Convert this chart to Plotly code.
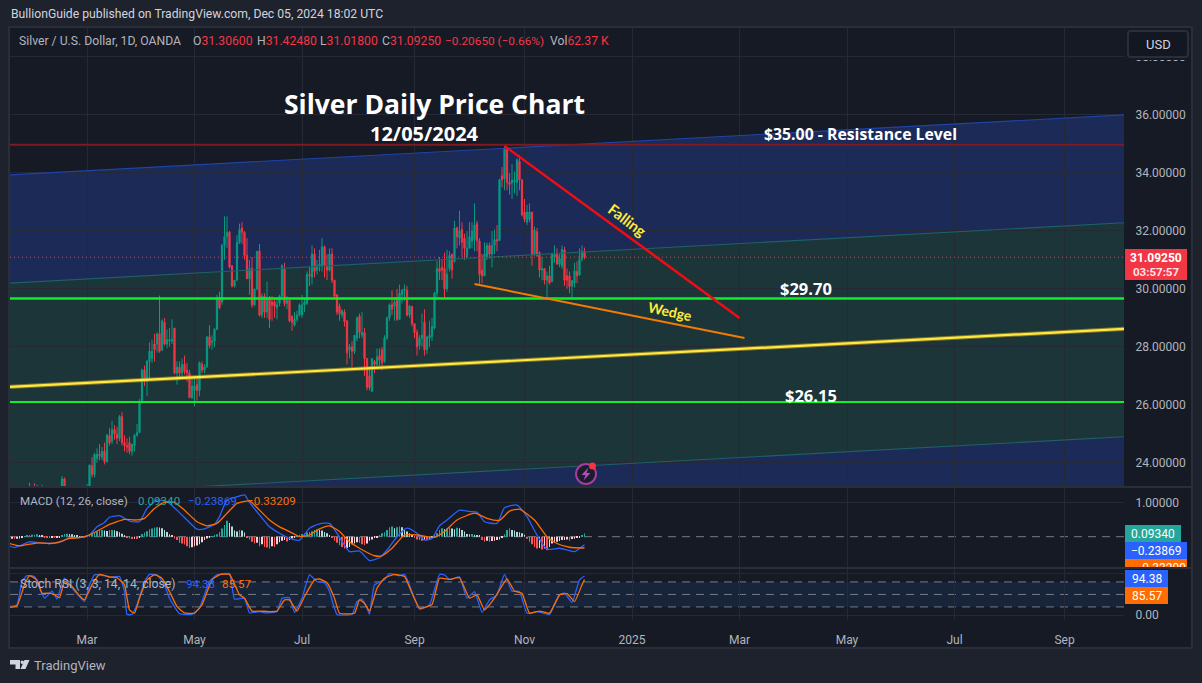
import numpy as np
import pandas as pd
import plotly.graph_objects as go

W, H = 1202, 683

# ---------- data ----------
first_bar = -30   # bars counted in weekdays from 2024-03-01
opens = [22.95,22.90,22.85,22.70,22.80,22.95,23.00,22.95,22.90,22.75,
 22.70,22.95,22.85,22.95,22.55,22.35,22.50,22.40,22.70,22.90,
 23.05,23.45,23.10,22.90,22.70,22.85,22.80,22.65,22.50,22.65,22.80,
 23.15,23.90,23.60,24.15,24.30,24.20,24.40,24.05,24.95,24.75,
 25.15,25.00,24.85,25.60,24.70,24.60,24.70,24.40,24.60,24.95,
 25.05,26.10,27.20,26.85,27.50,27.60,28.10,28.10,28.45,27.90,
 28.85,28.10,28.20,28.20,28.65,27.10,27.30,27.10,27.40,27.20,
 27.10,26.25,26.50,26.70,26.50,27.40,27.20,27.30,28.35,28.15,
 28.20,28.60,29.70,29.55,31.50,31.80,31.95,30.80,30.10,30.30,
 31.60,32.10,31.95,31.15,30.35,30.70,29.45,30.00,31.30,29.10,
 29.75,29.20,29.70,29.55,29.55,29.35,29.50,29.75,30.70,29.50,
 29.60,29.05,28.75,28.95,29.10,29.10,29.45,29.50,30.50,30.40,
 31.20,30.65,30.80,30.80,31.45,30.80,30.65,31.20,30.30,29.80,
 29.40,29.10,29.20,28.90,27.90,28.00,27.85,28.30,29.05,28.40,
 28.50,27.60,27.00,26.47,27.50,27.40,27.70,27.90,27.50,28.30,
 29.00,29.45,29.40,29.70,28.95,29.80,29.95,29.95,29.10,29.40,
 28.80,28.50,28.05,28.30,28.85,27.90,28.30,28.35,28.65,29.85,
 30.70,30.75,30.70,30.00,30.70,31.20,30.95,32.10,31.75,32.05,
 31.75,31.10,31.40,31.65,31.70,32.25,31.65,30.65,30.45,31.10,
 31.50,31.20,31.50,31.70,31.67,33.90,33.80,34.80,33.67,33.65,
 33.70,33.67,34.40,33.76,32.65,32.30,32.40,32.65,31.17,31.97,
 31.25,30.65,30.70,30.30,30.45,30.25,31.10,31.20,30.85,30.78,
 31.35,30.45,30.45,30.10,30.20,30.60,30.48,31.02,31.306]
highs = [23.10,23.05,23.00,22.95,23.10,23.15,23.15,23.32,23.15,23.30,
 23.25,23.10,23.25,23.05,22.70,22.60,22.65,22.80,23.00,23.10,
 23.55,23.50,23.15,23.00,22.95,23.05,22.95,22.80,22.75,22.90,23.28,
 23.95,24.20,24.35,24.50,24.65,24.55,24.70,25.00,25.20,25.45,
 25.30,25.25,25.65,25.75,24.95,24.85,24.90,24.65,25.00,25.35,
 26.20,27.25,27.35,27.55,28.15,28.25,28.45,28.50,29.77,28.95,
 29.00,28.60,28.65,28.95,28.65,27.50,27.50,27.60,27.70,27.45,
 27.20,27.00,26.95,27.00,27.50,27.50,27.40,28.35,28.75,28.40,
 28.65,29.80,29.90,31.55,32.50,32.50,32.00,30.80,30.30,31.85,
 32.25,32.30,32.00,31.75,31.00,31.10,30.00,31.30,31.55,29.85,
 29.85,30.25,29.75,29.75,29.70,29.70,29.80,30.85,30.90,29.75,
 29.65,29.10,29.20,29.25,29.50,29.80,29.65,30.60,30.75,31.50,
 31.40,31.00,31.35,31.75,31.50,31.20,31.40,31.40,30.30,29.80,
 29.50,29.30,29.30,28.90,28.10,28.20,28.40,29.05,29.15,29.20,
 28.65,27.60,27.30,27.60,27.55,27.95,27.95,28.00,28.40,29.05,
 29.50,29.95,29.70,30.00,30.15,30.00,30.15,30.10,29.45,29.40,
 28.80,28.60,28.40,29.15,29.30,28.35,28.90,29.00,29.90,30.95,
 31.10,31.00,31.25,31.35,31.30,31.20,32.35,32.15,32.70,32.30,
 31.90,32.00,32.30,32.30,32.95,32.35,31.75,31.20,31.60,31.60,
 31.60,32.00,32.05,32.20,33.80,34.20,34.93,34.85,34.00,34.30,
 34.05,34.50,34.60,33.76,33.10,32.90,32.95,32.65,32.15,32.10,
 31.30,31.10,30.70,30.60,30.80,31.25,31.50,31.40,31.20,31.50,
 31.45,30.70,30.60,30.30,30.90,30.95,31.40,31.50,31.4248]
lows = [22.80,22.75,22.60,22.55,22.70,22.80,22.80,22.85,22.65,22.60,
 22.55,22.70,22.70,22.45,22.25,22.20,22.25,22.30,22.60,22.80,
 22.95,23.05,22.80,22.60,22.55,22.70,22.55,22.40,22.35,22.55,22.70,
 23.00,23.50,23.50,24.00,24.10,24.10,23.95,24.00,24.60,24.65,
 24.80,24.65,24.75,24.60,24.40,24.35,24.30,24.25,24.40,24.90,
 25.05,26.05,26.65,26.30,26.90,27.45,27.50,27.80,27.80,27.85,
 28.05,27.95,28.00,28.10,27.05,26.70,26.90,26.95,27.05,26.80,
 26.25,26.20,25.95,26.15,26.30,27.10,27.10,27.30,27.95,27.90,
 28.00,28.60,29.30,29.45,31.00,31.40,30.70,30.05,30.05,30.30,
 31.55,31.55,31.00,30.35,29.80,29.35,29.40,29.95,29.05,29.00,
 29.00,29.00,28.65,28.90,29.00,28.95,29.40,29.70,29.40,29.30,
 28.85,28.55,28.70,28.85,29.05,29.00,29.20,29.45,30.10,30.15,
 30.40,30.50,30.60,30.60,30.40,30.30,30.60,30.20,29.70,29.10,
 28.90,29.00,28.70,27.40,27.60,27.30,27.75,28.20,28.30,28.30,
 27.00,26.50,26.50,26.45,27.10,27.30,27.35,27.20,27.45,28.25,
 28.90,29.10,28.90,28.90,28.95,29.50,29.60,29.05,29.00,28.70,
 28.30,27.70,27.90,28.00,27.70,27.75,28.00,28.20,28.60,29.70,
 30.30,30.30,29.70,29.90,30.60,30.35,30.90,31.40,31.50,31.10,
 31.00,31.10,31.40,31.40,31.30,31.30,30.10,30.20,30.45,31.00,
 31.05,30.75,31.20,31.30,31.65,33.50,33.40,33.40,33.25,33.10,
 33.30,33.20,33.40,32.50,32.30,32.20,32.30,30.80,31.15,31.10,
 30.40,30.30,30.15,29.70,30.15,30.25,30.90,30.85,30.75,30.70,
 30.10,30.00,29.85,29.70,30.05,30.20,30.45,30.95,31.018]
closes = [22.90,22.85,22.70,22.80,22.95,23.00,22.95,22.90,22.75,22.70,
 22.95,22.85,22.95,22.55,22.35,22.50,22.40,22.70,22.90,23.05,
 23.45,23.10,22.90,22.70,22.85,22.80,22.65,22.50,22.65,22.80,23.15,
 23.92,23.60,24.30,24.30,24.25,24.40,24.05,24.95,24.70,25.15,
 25.00,24.85,25.60,24.70,24.60,24.55,24.40,24.65,24.95,25.05,
 26.10,27.20,26.90,27.50,27.85,27.85,27.90,28.45,27.85,28.90,
 28.10,28.25,28.25,28.25,27.10,27.30,27.10,27.40,27.15,27.10,
 26.25,26.65,26.65,26.50,27.45,27.20,27.30,28.35,28.05,28.20,
 28.60,29.70,29.35,31.50,31.80,31.95,30.75,30.10,30.30,31.60,
 32.05,31.95,31.15,30.35,30.70,29.45,30.00,31.30,29.10,29.75,
 29.20,29.70,28.95,29.45,29.40,29.45,29.75,30.80,29.50,29.60,
 28.90,28.85,28.95,29.10,29.45,29.45,29.55,30.50,30.45,31.20,
 30.60,30.80,30.85,31.45,30.80,30.65,31.20,30.30,29.75,29.20,
 29.15,29.25,28.87,27.80,28.00,27.85,28.40,29.00,28.50,28.50,
 27.60,26.60,26.60,27.60,27.40,27.65,27.55,27.45,28.30,29.00,
 29.45,29.30,29.55,28.95,29.85,29.95,30.00,29.10,29.40,28.80,
 28.50,28.00,28.30,28.40,27.90,28.35,28.40,28.70,29.85,30.70,
 30.60,30.65,30.00,30.50,31.15,30.65,32.10,31.80,32.00,31.60,
 31.40,31.40,31.80,32.00,32.20,31.65,30.50,30.45,31.20,31.50,
 31.20,31.50,31.70,31.65,33.76,33.76,34.85,33.67,33.60,33.75,
 33.75,34.45,33.76,32.55,32.40,32.65,32.65,31.17,32.03,31.15,
 30.65,30.70,30.30,30.45,30.20,31.22,31.20,30.85,31.05,31.35,
 30.30,30.30,30.08,30.28,30.62,30.45,31.02,31.30,31.0925]

macd_hist = [-.06,-.07,-.06,-.05,-.03,.01,.04,
 .05,.06,.06,.07,.05,.03,
 -.01,-.02,-.03,-.01,-.03,-.02,-.01,.03,
 .08,.09,.08,.07,.05,.03,
 .02,.01,-.01,.03,
 .08,.10,.13,.15,.19,.20,.18,.17,.20,.20,.19,.16,.13,.09,.05,
 -.01,-.05,-.07,-.06,-.07,-.02,
 .08,.12,.16,.22,.24,.27,.28,.27,.25,.20,.14,.07,.04,
 -.05,-.10,-.18,-.20,-.23,-.28,-.33,-.31,-.28,-.26,-.22,-.16,-.10,-.05,
 -.02,.02,.04,.07,
 .14,.24,.34,.47,.40,.30,.18,.15,.20,.18,.12,
 -.03,-.08,-.15,-.20,-.18,-.28,-.22,-.30,-.32,-.35,-.28,-.30,-.22,-.16,-.12,-.10,-.14,-.10,-.05,-.02,
 .02,.06,.08,.10,.12,.14,
 .16,.20,.22,.20,.18,.14,.10,.05,
 -.02,-.12,-.18,-.25,-.30,-.35,-.33,-.30,-.22,-.20,-.16,-.18,-.22,-.25,-.20,-.12,-.08,-.03,-.01,
 .03,.10,.13,.20,.28,.30,.25,.28,.30,.28,.22,.15,.10,.05,
 -.03,-.08,-.10,-.12,-.09,-.10,-.07,-.02,
 .04,.10,.20,.25,.22,.24,.26,.24,.22,.26,.25,.20,.15,.08,.07,.08,.06,.05,.03,
 -.10,-.15,-.12,-.15,-.13,-.12,-.10,-.08,-.02,
 .07,.20,.25,.20,.18,.14,.13,.10,.06,
 -.06,-.15,-.22,-.30,-.35,-.33,-.38,-.35,-.40,-.30,-.20,-.18,-.15,-.13,-.10,-.10,-.08,-.12,-.07,-.06,-.04,-.01,.05,.0934]

macd_bar = [-31,-29,-27,-23,-19,-15,-11,-7,-3,1,4,7,9,13,17,21,24,28,32,36,40,44,47,51,53,56,59,63,65,69,73,77,81,85,89,93,97,100,103,105,109,113,117,120,124,128,132,135,138,141,144,149,153,156,159,164,167,172,176,180,184,189,195,199]
macd_line = [-.27,-.32,-.27,-.15,-.18,-.20,-.17,-.03,-.03,.05,.29,.42,.57,.62,.46,.44,.83,1.08,1.03,.78,.49,.22,.23,.36,.59,1.08,1.15,1.23,1.01,.64,.29,.10,-.05,-.10,.25,.38,.39,.10,-.25,-.44,-.42,-.70,-.62,-.39,0,.25,.10,-.10,-.05,.32,.49,.78,.74,.72,.44,.39,.85,.93,.59,.05,-.37,-.34,-.44,-.23869]
signal_bar = [-31,-27,-23,-19,-15,-11,-7,-3,1,5,9,15,19,23,27,31,35,39,44,48,52,56,60,65,69,73,77,81,85,89,93,97,101,105,109,115,118,122,127,132,139,143,148,155,160,165,169,173,179,184,188,193,199]
signal_line = [-.20,-.27,-.22,-.18,-.20,-.15,-.05,-.03,.05,.20,.36,.51,.49,.54,.83,1.01,1.01,.78,.44,.32,.39,.69,.98,1.05,.78,.49,.29,.15,0,.05,.23,.32,.15,-.15,-.34,-.56,-.56,-.34,.05,.05,-.02,.15,.49,.69,.54,.48,.75,.81,.49,0,-.20,-.31,-.33209]

k_bar = [-31,-28,-26,-24,-21,-19,-17,-16,-14,-12,-10,-9,-6,-3,-1,1,3,7,9,13,15,16,18,20,23,25,28,31,33,37,42,45,49,52,57,59,63,65,69,71,76,78,81,83,86,89,92,95,97,100,106,108,110,112,113,115,119,121,125,127,131,133,137,141,143,145,149,152,155,158,161,164,167,170,173,176,180,185,189,191,194,197,199]
k_line = [21,25,81,95,93,65,41,46,58,39,77,89,65,45,33,73,97,95,91,93,57,2,2,25,81,98,97,73,41,4,2,18,81,97,100,39,41,6,9,6,9,41,42,7,41,97,81,78,57,2,2,33,39,17,2,73,85,100,95,98,41,15,25,98,97,86,92,41,57,7,37,49,98,58,57,5,9,2,49,53,31,85,94.38]
d_bar = [-31,-28,-25,-23,-20,-18,-15,-13,-11,-9,-6,-3,-1,2,5,9,12,15,17,19,21,24,27,30,33,36,39,43,46,50,53,57,61,63,66,69,73,76,79,81,84,87,91,93,96,99,101,107,109,111,113,116,119,123,127,130,133,138,141,145,149,153,156,159,163,165,168,171,174,177,181,185,189,192,195,198,199]
d_line = [19,23,73,95,85,53,53,49,42,81,69,47,37,73,98,92,90,73,13,5,41,85,97,89,57,21,6,5,25,85,97,98,49,41,10,10,9,10,37,37,10,45,85,87,78,41,5,5,37,29,10,65,89,98,93,53,17,26,89,86,90,41,49,13,41,61,87,58,53,5,10,5,49,52,33,73,85.57]

channel_left = [33.93, 30.20, 26.62, 22.83, 18.90]
channel_right = [36.00, 32.28, 28.62, 24.90, 21.00]
resistance = 34.97
support_high = 29.67
support_low = 26.10
falling_dates = ["2024-10-22", "2025-03-03"]
falling_prices = [34.93, 29.00]
wedge_dates = ["2024-10-04", "2025-03-05"]
wedge_prices = [30.17, 28.31]
last_price = 31.0925
tick_dates = ["2024-03-01","2024-05-01","2024-07-01","2024-09-02","2024-11-01","2025-01-01","2025-03-03","2025-05-01","2025-07-01","2025-09-01"]
tick_labels = ["Mar","May","Jul","Sep","Nov","2025","Mar","May","Jul","Sep"]
price_ticks = [24,26,28,30,32,34,36,38]
signal_tag_value = -0.905
signal_tag_label = "−0.33209"

assert len(opens)==len(highs)==len(lows)==len(closes)==len(macd_hist)==230, (len(opens),len(highs),len(lows),len(closes),len(macd_hist))

# ---------- helpers ----------
origin = pd.Timestamp("2024-03-01")
def bar_of(d):
    return int(np.busday_count(origin.date(), pd.Timestamp(d).date()))
def px(x): return x/W
def py(y): return 1-y/H

bars = np.arange(first_bar, first_bar+len(opens))
X_L, X_R = 10, 1124
BAR_PX = 2.5
x_range = [(X_L-87)/BAR_PX, (X_R-87)/BAR_PX]
tickvals = [bar_of(d) for d in tick_dates]

BG, PANEL, BORDER, GRID = "#1e222d", "#161a25", "#2a2e39", "#252935"
UP, DOWN = "#089981", "#f23645"
BLUE, ORANGE, TEAL = "#2962ff", "#ff6d00", "#26a69a"
TXT = "#b2b5be"
FONT = "Roboto"

fig = go.Figure()

def ray(level_l, level_r, color, width, name):
    fig.add_trace(go.Scatter(x=x_range, y=[level_l, level_r], mode="lines", name=name,
                             line=dict(color=color, width=width), hoverinfo="skip"))

fig.add_trace(go.Candlestick(x=bars, open=opens, high=highs, low=lows, close=closes, name="XAGUSD",
    increasing=dict(line=dict(color=UP, width=1), fillcolor=UP),
    decreasing=dict(line=dict(color=DOWN, width=1), fillcolor=DOWN), whiskerwidth=0))

ray(channel_left[0], channel_right[0], "#1f44a8", 1.1, "channel top")
ray(channel_left[1], channel_right[1], "#216068", 1.1, "channel mid")
ray(channel_left[3], channel_right[3], "#216068", 1.1, "channel low")
fig.add_trace(go.Scatter(x=x_range, y=[last_price]*2, mode="lines", line=dict(color=DOWN, width=1, dash="1px 3px"), hoverinfo="skip"))
ray(resistance, resistance, "#801922", 2, "resistance")
ray(channel_left[2], channel_right[2], "rgba(200,160,40,0.6)", 4.2, "trend shadow")
ray(channel_left[2], channel_right[2], "#ffe93f", 2.2, "trend")
ray(support_high, support_high, "#0fef27", 2.5, "29.70")
ray(support_low, support_low, "#0fef27", 2, "26.15")
fig.add_trace(go.Scatter(x=[bar_of(d) for d in falling_dates], y=falling_prices, mode="lines", line=dict(color="#f00d14", width=2.5), hoverinfo="skip"))
fig.add_trace(go.Scatter(x=[bar_of(d) for d in wedge_dates], y=wedge_prices, mode="lines", line=dict(color="#f57c00", width=2), hoverinfo="skip"))

# MACD pane
hist = np.array(macd_hist)
hist_colors = []
for i, v in enumerate(hist):
    prev = hist[i-1] if i else v
    if v >= 0:
        hist_colors.append("#26a69a" if v >= prev else "#b2dfdb")
    else:
        hist_colors.append("#ffcdd2" if v >= prev else "#ff5252")
fig.add_trace(go.Bar(x=bars, y=hist, marker=dict(color=hist_colors, line=dict(width=0)), width=0.36, xaxis="x2", yaxis="y2", hoverinfo="skip"))
fig.add_trace(go.Scatter(x=macd_bar, y=macd_line, mode="lines", line=dict(color=BLUE, width=1.3, shape="spline", smoothing=0.5), xaxis="x2", yaxis="y2", hoverinfo="skip"))
fig.add_trace(go.Scatter(x=signal_bar, y=signal_line, mode="lines", line=dict(color=ORANGE, width=1.3, shape="spline", smoothing=0.5), xaxis="x2", yaxis="y2", hoverinfo="skip"))
# value axis that carries the clipped signal tag text
fig.add_trace(go.Scatter(x=[x_range[0]], y=[signal_tag_value], mode="markers", marker=dict(opacity=0), xaxis="x2", yaxis="y4", hoverinfo="skip"))

# Stoch RSI pane
fig.add_trace(go.Scatter(x=k_bar, y=k_line, mode="lines", line=dict(color=BLUE, width=1.3, shape="spline", smoothing=0.4), xaxis="x3", yaxis="y3", hoverinfo="skip"))
fig.add_trace(go.Scatter(x=d_bar, y=d_line, mode="lines", line=dict(color=ORANGE, width=1.3, shape="spline", smoothing=0.4), xaxis="x3", yaxis="y3", hoverinfo="skip"))

# ---------- shapes ----------
shapes = []
def paper_rect(x0, y0, x1, y1, fill, line=None, lw=0, layer="below"):
    shapes.append(dict(type="rect", xref="paper", yref="paper", x0=px(x0), x1=px(x1), y0=py(y0), y1=py(y1),
                       fillcolor=fill, line=dict(color=line or fill, width=lw), layer=layer))
paper_rect(9, 27, 1192, 648, PANEL, BORDER, 2)

band_colors = ["rgba(32,58,135,0.5)", "rgba(32,80,77,0.5)", "rgba(32,80,77,0.5)", "rgba(32,58,135,0.5)"]
for i, c in enumerate(band_colors):
    path = (f"M {x_range[0]},{channel_left[i]} L {x_range[1]},{channel_right[i]} "
            f"L {x_range[1]},{channel_right[i+1]} L {x_range[0]},{channel_left[i+1]} Z")
    shapes.append(dict(type="path", path=path, xref="x", yref="y", fillcolor=c, line=dict(width=0), layer="below"))

# stoch band + dashed levels, macd zero
shapes.append(dict(type="rect", xref="x3", yref="y3", x0=x_range[0], x1=x_range[1], y0=20, y1=80,
                   fillcolor="rgba(33,110,200,0.13)", line=dict(width=0), layer="below"))
for lvl in (80, 50, 20):
    shapes.append(dict(type="line", xref="x3", yref="y3", x0=x_range[0], x1=x_range[1], y0=lvl, y1=lvl,
                       line=dict(color="#787b86", width=1, dash="8px 6px"), layer="below"))
shapes.append(dict(type="line", xref="x2", yref="y2", x0=x_range[0], x1=x_range[1], y0=0, y1=0,
                   line=dict(color="#787b86", width=1, dash="8px 6px"), layer="below"))

# cover the clipped top price label, USD button
paper_rect(1126, 28, 1190, 60, PANEL, layer="above")
shapes.append(dict(type="path", xref="paper", yref="paper", layer="above", fillcolor="#131722", line=dict(color=BORDER, width=2),
    path=" ".join([f"M {px(1131)},{py(31)}", f"L {px(1185)},{py(31)}", f"Q {px(1188)},{py(31)} {px(1188)},{py(34)}",
                   f"L {px(1188)},{py(54)}", f"Q {px(1188)},{py(57)} {px(1185)},{py(57)}", f"L {px(1131)},{py(57)}",
                   f"Q {px(1128)},{py(57)} {px(1128)},{py(54)}", f"L {px(1128)},{py(34)}", f"Q {px(1128)},{py(31)} {px(1131)},{py(31)}", "Z"])))

# price tags
annotations = []
def text(x, y, s, size=12, color=TXT, anchor="left", font=FONT, angle=0, valign="middle"):
    annotations.append(dict(xref="paper", yref="paper", x=px(x), y=py(y), text=s, showarrow=False, xanchor=anchor,
                            yanchor=valign, textangle=angle, font=dict(size=size, color=color, family=font)))

paper_rect(1125, 249, 1187, 280, DOWN, layer="above")
paper_rect(1125, 525, 1181, 542, TEAL, layer="above")
paper_rect(1125, 542, 1187, 559, BLUE, layer="above")
paper_rect(1125, 559, 1187, 568, ORANGE, layer="below")   # the tag text is the y4 tick label above it
paper_rect(1125, 568, 1190, 575, PANEL, layer="above")
paper_rect(1125, 570, 1168, 587, BLUE, layer="above")
paper_rect(1125, 587, 1168, 604, ORANGE, layer="above")

# pane separators
for y in (487, 568):
    shapes.append(dict(type="line", xref="paper", yref="paper", x0=px(10), x1=px(1191), y0=py(y), y1=py(y),
                       line=dict(color=BORDER, width=2), layer="above"))

# TradingView logo
logo = [
    f"M {px(10)},{py(660)} L {px(20)},{py(660)} L {px(20)},{py(669)} L {px(15.5)},{py(669)} L {px(15.5)},{py(664.5)} L {px(10)},{py(664.5)} Z",
    f"M {px(24.5)},{py(660)} L {px(29.5)},{py(660)} L {px(25.5)},{py(669)} L {px(20.5)},{py(669)} Z",
]
for p in logo:
    shapes.append(dict(type="path", xref="paper", yref="paper", path=p, fillcolor="#d1d4dc", line=dict(width=0), layer="above"))
shapes.append(dict(type="circle", xref="paper", yref="paper", x0=px(20.5), x1=px(24), y0=py(664), y1=py(660.5), fillcolor="#d1d4dc", line=dict(width=0), layer="above"))

# lightning badge
shapes.append(dict(type="circle", xref="paper", yref="paper", x0=px(576), x1=px(596), y0=py(484), y1=py(464),
                   fillcolor="#1a1e2b", line=dict(color="#a33ea1", width=2), layer="above"))
shapes.append(dict(type="path", xref="paper", yref="paper", layer="above", fillcolor="#b04fc0", line=dict(width=0),
    path=f"M {px(588.5)},{py(467.5)} L {px(581.5)},{py(475)} L {px(585.5)},{py(475)} L {px(583.5)},{py(480.5)} L {px(590.5)},{py(473)} L {px(586.5)},{py(473)} Z"))
shapes.append(dict(type="circle", xref="paper", yref="paper", x0=px(589), x1=px(596), y0=py(469.5), y1=py(462.5),
                   fillcolor="#f23645", line=dict(width=0), layer="above"))

# ---------- text ----------
text(9, 14, "BullionGuide published on TradingView.com, Dec 05, 2024 18:02 UTC", 12.2, "#d1d4dc")
red = lambda s: f'<span style="color:{DOWN}">{s}</span>'
LEG = 12.2
text(17, 41, "Silver / U.S. Dollar, 1D, OANDA", LEG, TXT)
text(191, 41, "O"+red("31.30600"), LEG, TXT)
text(255, 41, "H"+red("31.42480"), LEG, TXT)
text(318, 41, "L"+red("31.01800"), LEG, TXT)
text(380, 41, "C"+red("31.09250"), LEG, TXT)
text(443, 41, red("−0.20650 (−0.66%)"), LEG-0.4, TXT)
text(548, 41, "Vol"+red("62.37 K"), LEG, TXT)
text(434, 103.5, "<b>Silver Daily Price Chart</b>", 26.5, "#ffffff", "center", "Open Sans")
text(424, 134, "<b>12/05/2024</b>", 20, "#ffffff", "center", "Open Sans")
text(860.5, 134, "<b>$35.00 - Resistance Level</b>", 15.8, "#ffffff", "center", "Open Sans")
text(806, 288, "<b>$29.70</b>", 16.5, "#ffffff", "center", "Open Sans")
text(811, 395, "<b>$26.15</b>", 16.5, "#ffffff", "center", "Open Sans")
text(627.5, 220, "<b>Falling</b>", 15, "#ffeb3b", "center", "Lato", angle=37)
text(671, 311, "<b>Wedge</b>", 14, "#ffeb3b", "center", "Lato", angle=12)
text(1158, 44, "USD", 13, "#d1d4dc", "center")
text(1156, 257.5, "<b>31.09250</b>", 12, "#ffffff", "center")
text(1156, 271.5, "<b>03:57:57</b>", 11.5, "#ffe3e6", "center")
text(1153, 533.5, "0.09340", 12, "#ffffff", "center")
text(1156, 550.5, "−0.23869", 12, "#ffffff", "center")
text(1146.5, 578.5, "94.38", 12, "#ffffff", "center")
text(1146.5, 595.5, "85.57", 12, "#ffffff", "center")
text(18, 501, "MACD (12, 26, close)", 11.6, TXT)
text(136, 501, "0.09340", 11.6, TEAL)
text(186, 501, "−0.23869", 11.6, BLUE)
text(245, 501, "−0.33209", 11.6, ORANGE)
text(18, 584, "Stoch RSI (3, 3, 14, 14, close)", 12.2, TXT)
text(184, 584, "94.38", 11.6, BLUE)
text(220, 584, "85.57", 11.6, ORANGE)
text(31.5, 665, "TradingView", 13, "#b2b5be", font="Roboto")

# ---------- layout ----------
common_x = dict(range=x_range, domain=[px(X_L), px(X_R)], tickmode="array", tickvals=tickvals, ticktext=tick_labels,
                showgrid=True, gridcolor=GRID, gridwidth=1, zeroline=False, showline=False, rangeslider=dict(visible=False))
common_y = dict(side="right", showgrid=True, gridcolor=GRID, gridwidth=1, zeroline=False, showline=False,
                ticks="outside", ticklen=8, tickcolor="rgba(0,0,0,0)", tickfont=dict(size=12, color=TXT, family=FONT))

fig.update_layout(
    width=W, height=H, autosize=False, margin=dict(l=0, r=0, t=0, b=0, autoexpand=False),
    paper_bgcolor=BG, plot_bgcolor="rgba(0,0,0,0)", showlegend=False, barmode="overlay",
    hovermode=False, shapes=shapes, annotations=annotations,
    font=dict(family=FONT, color=TXT),
    xaxis=dict(**common_x, anchor="y", showticklabels=False),
    xaxis2=dict(**common_x, anchor="y2", showticklabels=False),
    xaxis3=dict(**common_x, anchor="y3", showticklabels=True, ticks="outside", ticklen=9, tickcolor="rgba(0,0,0,0)",
                tickfont=dict(size=12, color=TXT, family=FONT)),
    yaxis=dict(**common_y, anchor="x", domain=[py(487), py(27)], range=[23.17, 39.03],
               tickmode="array", tickvals=price_ticks, ticktext=[f"{v:.5f}" for v in price_ticks]),
    yaxis2=dict(**common_y, anchor="x2", domain=[py(568), py(487)], range=[-0.92, 1.46],
                tickmode="array", tickvals=[1.0], ticktext=["1.00000"]),
    yaxis3=dict(**common_y, anchor="x3", domain=[py(620), py(568)], range=[-11.3, 113.4],
                tickmode="array", tickvals=[0, 100], ticktext=["0.00", " "]),
    yaxis4=dict(side="right", overlaying="y2", anchor="x2", range=[-0.92, 1.46], showgrid=False, zeroline=False, showline=False,
                ticks="outside", ticklen=8, tickcolor="rgba(0,0,0,0)", tickmode="array", tickvals=[signal_tag_value],
                ticktext=[signal_tag_label], tickfont=dict(size=12, color="#ffffff", family=FONT)),
)

fig.write_html("out.html", config=dict(displayModeBar=False),
               post_script="document.body.style.margin='0';document.body.style.overflow='hidden';")
